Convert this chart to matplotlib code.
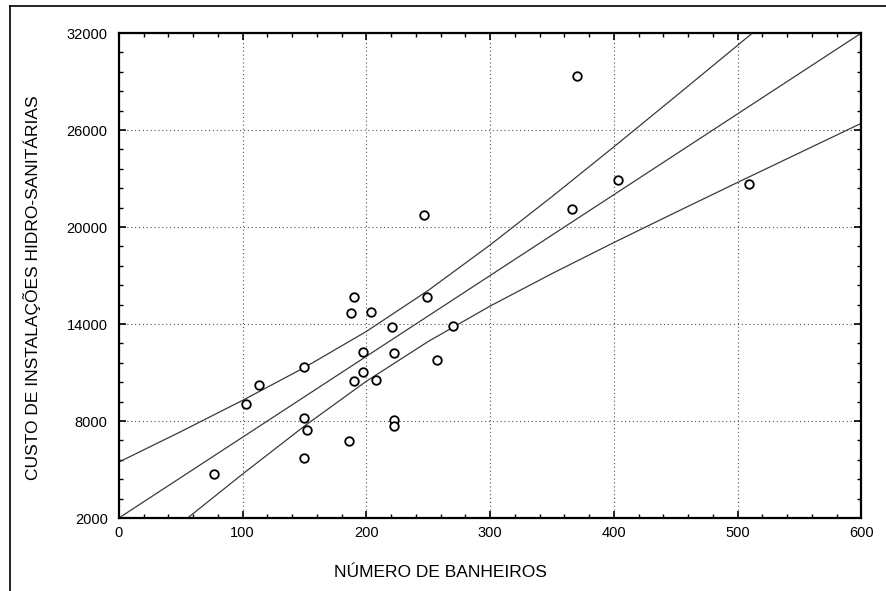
import matplotlib.pyplot as plt
from matplotlib.ticker import MultipleLocator
from matplotlib.lines import Line2D

plt.rcParams['font.family'] = ['Liberation Sans', 'DejaVu Sans']

# Observed buildings: number of bathrooms vs. plumbing installation cost
banheiros = [77, 103, 113, 150, 150, 152, 150, 186, 188, 190, 204, 197, 197,
             190, 208, 221, 222, 222, 222, 247, 249, 257, 270, 366, 370, 403, 509]
custo = [4700, 9050, 10200, 11350, 8200, 7450, 5700, 6750, 14700, 15700, 14750,
         12300, 11050, 10500, 10550, 13800, 12200, 8050, 7700, 20750, 15700,
         11750, 13850, 21100, 29350, 22900, 22650]

# Fitted line and 95% band, sampled along the x axis
x_ajuste = [0, 50, 100, 150, 200, 250, 300, 350, 400, 450, 500, 550, 600]
y_ajuste = [2000, 4500, 7000, 9500, 12000, 14500, 17000, 19500, 22000, 24500,
            27000, 29500, 32000]
y_superior = [5460, 7340, 9280, 11310, 13540, 16080, 18890, 21880, 24960, 28090,
              31240, 34410, 37580]
y_inferior = [-1460, 1660, 4720, 7690, 10460, 12920, 15110, 17120, 19040, 20910,
              22760, 24590, 26420]

y_ticks = [2000, 8000, 14000, 20000, 26000, 32000]
y_minor = list(range(2000, 32001, 1200))

fig = plt.figure(figsize=(8.87, 5.91), dpi=100)
ax = fig.add_axes([0.134, 0.1235, 0.837, 0.8205])

ax.grid(True, which='major', color='#555555', linestyle=(0, (1, 2.5)), linewidth=0.8)
ax.set_axisbelow(True)

for ys in (y_superior, y_ajuste, y_inferior):
    ax.plot(x_ajuste, ys, color='#3a3a3a', linewidth=0.9, zorder=2)

ax.scatter(banheiros, custo, s=38, facecolors='white', edgecolors='black',
           linewidths=1.3, zorder=3)

ax.set_xlim(0, 600)
ax.set_ylim(2000, 32000)
ax.xaxis.set_major_locator(MultipleLocator(100))
ax.xaxis.set_minor_locator(MultipleLocator(20))
ax.set_yticks(y_ticks)
ax.set_yticks(y_minor, minor=True)
ax.tick_params(which='both', direction='in', top=True, right=True, color='black')
ax.tick_params(which='major', length=5, width=1.2, labelsize=10.5)
ax.tick_params(axis='y', which='major', pad=8)
ax.tick_params(axis='x', which='major', pad=6)
ax.tick_params(which='minor', length=3, width=1.0)

for sp in ax.spines.values():
    sp.set_linewidth(1.6)

ax.set_xlabel('NÚMERO DE BANHEIROS', fontsize=12.5)
ax.set_ylabel('CUSTO DE INSTALAÇÕES HIDRO-SANITÁRIAS', fontsize=12.5)
ax.xaxis.set_label_coords(0.433, -0.097)
ax.yaxis.set_label_coords(-0.105, 0.474)

# Outer frame around the figure
fig.add_artist(Line2D([10 / 887, 1.0], [1 - 6 / 591, 1 - 6 / 591],
                      transform=fig.transFigure, color='black', linewidth=1.2))
fig.add_artist(Line2D([10 / 887, 10 / 887], [0.0, 1 - 6 / 591],
                      transform=fig.transFigure, color='black', linewidth=1.2))

fig.savefig('out.png', dpi=100)
